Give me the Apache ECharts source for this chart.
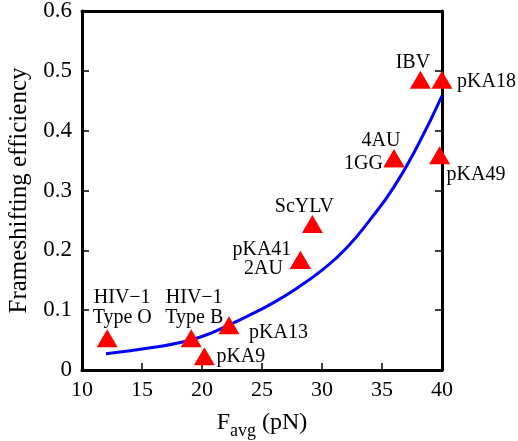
<!DOCTYPE html>
<html>
<head>
<meta charset="utf-8">
<script src="https://cdn.jsdelivr.net/npm/echarts@6/dist/echarts.min.js"></script>
<style>
html,body{margin:0;padding:0;background:#fff;}
#chart{width:518px;height:441px;}
</style>
</head>
<body>
<div id="chart"></div>
<script>
// 测得的点（F_avg, 移码效率）
var names = ['HIV\u22121\nType O','HIV\u22121\nType B','pKA9','pKA13','pKA41','2AU','ScYLV','4AU','1GG','IBV','pKA18','pKA49'];
var fAvg = [12.1, 19.1, 20.2, 22.25, 28.2, 28.2, 29.2, 36.0, 36.0, 38.2, 40.0, 39.8];
var eff = [0.053, 0.053, 0.023, 0.075, 0.184, 0.184, 0.244, 0.354, 0.354, 0.485, 0.485, 0.359];

// 拟合曲线
var curveX = [12, 14, 16, 18, 20, 22, 24, 26, 28, 30, 32, 34, 36, 38, 40];
var curveY = [0.027, 0.032, 0.038, 0.045, 0.056, 0.073, 0.092, 0.113, 0.138, 0.167, 0.203, 0.251, 0.306, 0.376, 0.458];

// 标签摆放 [align, dx, dy]
var labelPos = [
	['center', 15, -31], ['center', 3, -31], ['left', 12, 1], ['left', 20, 8],
	['center', -38.5, -10], ['center', -37, 9], ['center', -8, -17], ['center', -13, -17],
	['right', -11, 6], ['center', -7.5, -17], ['left', 15, 2], ['left', 7, 20]
];

var font = 'Liberation Serif';

var pts = names.map(function(n, i){
	var p = labelPos[i];
	return {
		name: n,
		value: [fAvg[i], eff[i]],
		label: { align: p[0], offset: [p[1], p[2]] }
	};
});
var curve = curveX.map(function(x, i){ return [x, curveY[i]]; });

var axisLine = { show: true, onZero: false, lineStyle: { color: '#000', width: 3 } };
var tick = { show: true, inside: true, length: 7, lineStyle: { color: '#000', width: 1.5 } };

var chart = echarts.init(document.getElementById('chart'));
chart.setOption({
	animation: false,
	grid: { left: 82, right: 76, top: 11, bottom: 71, containLabel: false, outerBoundsMode: 'none' },
	xAxis: [{
		type: 'value', min: 10, max: 40, interval: 5, position: 'bottom',
		axisLine: axisLine, axisTick: tick, splitLine: { show: false },
		axisLabel: { color: '#000', fontFamily: font, fontSize: 22, margin: 9 },
		name: '{a|F}{b|avg}{a| (pN)}', nameLocation: 'middle', nameGap: 36,
		nameTextStyle: {
			rich: {
				a: { fontFamily: font, fontSize: 24, color: '#000', lineHeight: 34 },
				b: { fontFamily: font, fontSize: 18, color: '#000', lineHeight: 18, verticalAlign: 'bottom' }
			}
		}
	}, {
		type: 'value', min: 10, max: 40, interval: 5, position: 'top',
		axisLine: axisLine, axisTick: { show: false }, axisLabel: { show: false }, splitLine: { show: false }
	}],
	yAxis: [{
		type: 'value', min: 0, max: 0.6, interval: 0.1, position: 'left',
		axisLine: axisLine, axisTick: tick, splitLine: { show: false },
		axisLabel: { color: '#000', fontFamily: font, fontSize: 23, margin: 10 },
		name: 'Frameshifting efficiency', nameLocation: 'middle', nameGap: 36, nameRotate: 90,
		nameTextStyle: { fontFamily: font, fontSize: 25, color: '#000' }
	}, {
		type: 'value', min: 0, max: 0.6, interval: 0.1, position: 'right',
		axisLine: axisLine, axisTick: tick, axisLabel: { show: false }, splitLine: { show: false }
	}],
	series: [{
		type: 'line',
		data: curve,
		smooth: 0.5,
		showSymbol: false,
		lineStyle: { color: '#0000ff', width: 3 },
		z: 2
	}, {
		type: 'scatter',
		data: pts,
		symbol: 'triangle',
		symbolSize: [21, 18],
		itemStyle: { color: '#ff0000', opacity: 1 },
		label: {
			show: true, position: 'inside', formatter: '{b}',
			color: '#000', fontFamily: font, fontSize: 20, lineHeight: 20
		},
		z: 3
	}]
});
</script>
</body>
</html>
